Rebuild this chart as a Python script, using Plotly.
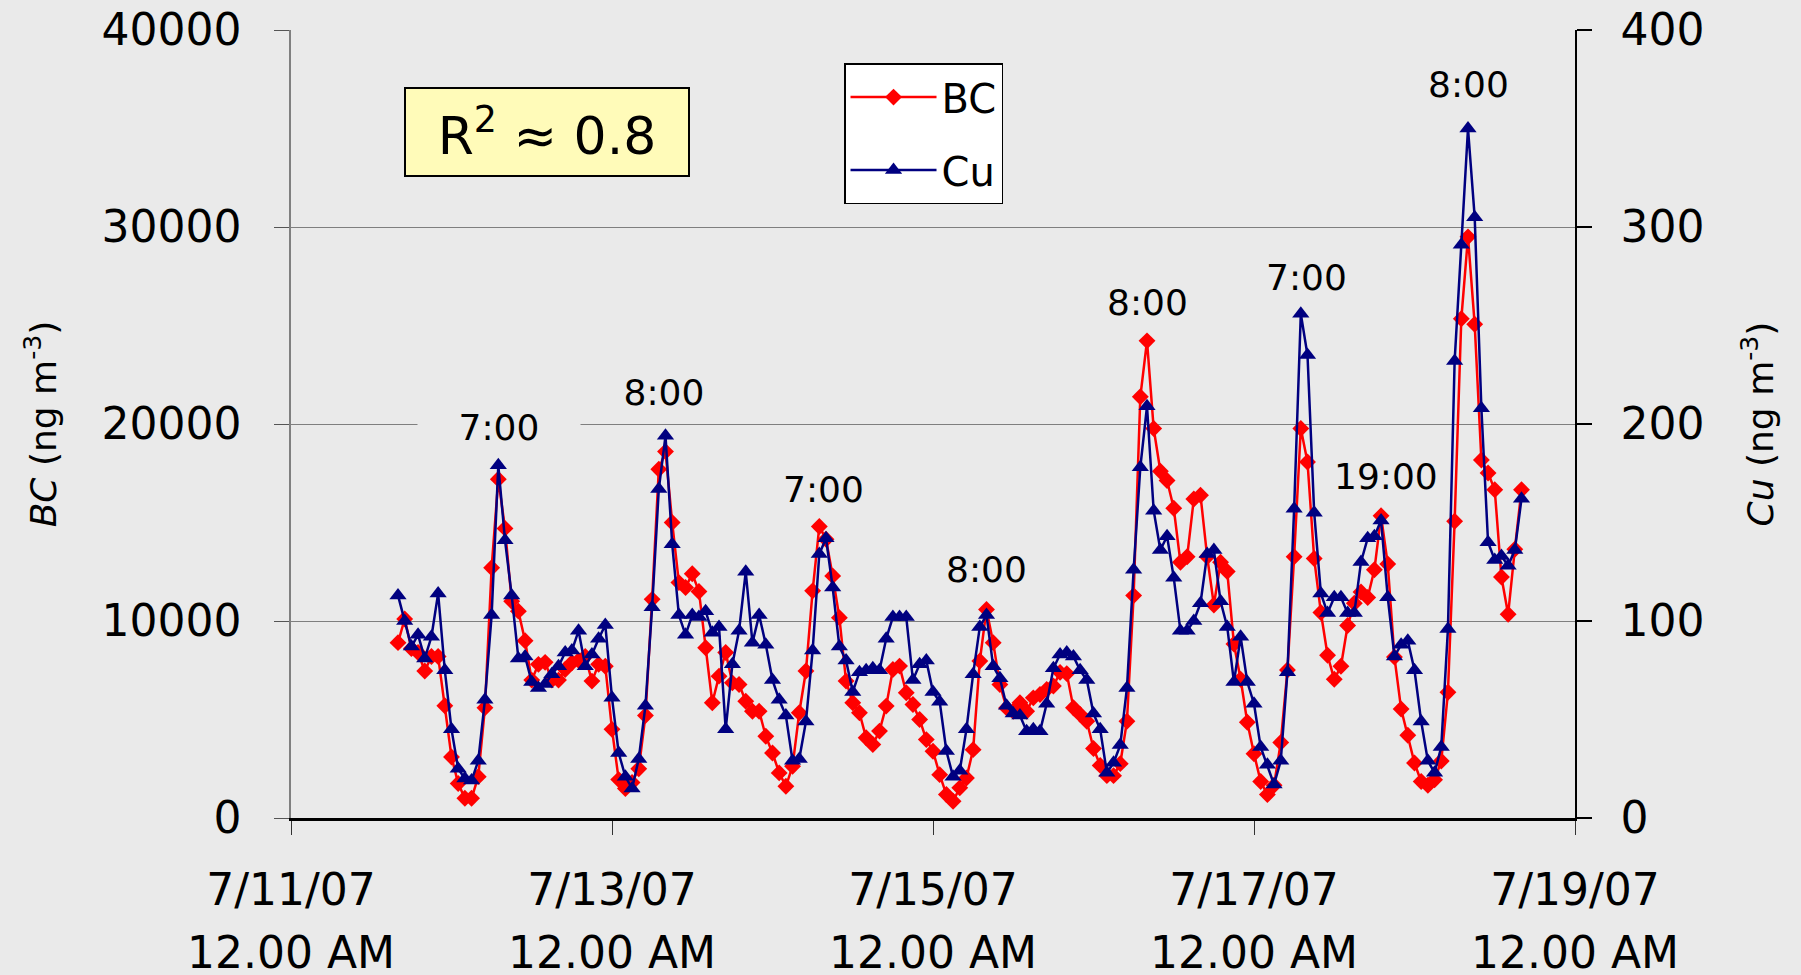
import pandas as pd
import plotly.graph_objects as go

# ---------------- data (hourly, starting 7/11/07 16:00) ----------------
start_time = "2007-07-11 16:00"

bc = [
    8900, 10100, 8600, 8400, 7460, 8200, 8200, 5700,
    3100, 1750, 1000, 1000, 2100, 5600, 12700, 17200,
    14700, 11000, 10500, 9000, 7000, 7800, 7900, 7000,
    7000, 7540, 7880, 8000, 8200, 6950, 7800, 7700,
    4500, 1950, 1500, 1800, 2500, 5200, 11100, 17700,
    18600, 15000, 11950, 11700, 12400, 11500, 8640, 5850,
    7200, 8400, 6860, 6780, 5930, 5420, 5420, 4150,
    3300, 2290, 1610, 2630, 5340, 7460, 11530, 14800,
    14150, 12290, 10170, 6950, 5850, 5340, 4070, 3730,
    4410, 5680, 7540, 7710, 6360, 5760, 5000, 3980,
    3390, 2200, 1190, 850, 1530, 2030, 3470, 7970,
    10590, 8900, 6780, 5590, 5420, 5850, 5420, 6100,
    6270, 6520, 6700, 7390, 7330, 5600, 5260, 4910,
    3530, 2670, 2150, 2150, 2760, 4910, 11290, 21380,
    24220, 19770, 17600, 17130, 15720, 12980, 13260, 16190,
    16380, 13260, 10810, 12980, 12510, 8830, 7040, 4860,
    3260, 1850, 1190, 1660, 3830, 7510, 13260, 19770,
    18070, 13170, 10430, 8260, 7040, 7700, 9770, 10900,
    11470, 11190, 12600, 15340, 12890, 8170, 5530, 4200,
    2790, 1850, 1660, 1940, 2890, 6380, 15060, 25340,
    29500, 25060, 18170, 17510, 16660, 12230, 10340, 13640,
    16660,
]

cu = [
    113, 100, 87, 93, 81, 92, 114, 75,
    45, 25, 20, 19, 29, 60, 103, 179,
    141, 113, 81, 82, 69, 66, 68, 73,
    77, 84, 85, 95, 77, 83, 91, 98,
    61, 33, 21, 15, 30, 57, 107, 167,
    194, 139, 103, 93, 103, 102, 105, 94,
    97, 45, 78, 95, 125, 89, 103, 88,
    70, 60, 52, 29, 30, 49, 85, 134,
    142, 117, 87, 80, 64, 74, 75, 76,
    75, 91, 102, 102, 102, 70, 78, 80,
    64, 59, 34, 21, 24, 45, 73, 97,
    103, 77, 71, 57, 53, 52, 44, 45,
    44, 58, 76, 83, 84, 82, 75, 70,
    53, 45, 23, 28, 37, 66, 126, 178,
    209, 156, 136, 143, 122, 95, 95, 100,
    109, 134, 136, 110, 97, 69, 92, 69,
    58, 36, 27, 17, 29, 74, 157, 256,
    235, 155, 114, 104, 112, 112, 104, 104,
    130, 142, 143, 151, 112, 82, 88, 90,
    75, 49, 29, 23, 36, 96, 232, 291,
    350, 305, 208, 140, 131, 133, 128, 136,
    162,
]

x_ticks = ["2007-07-11", "2007-07-13", "2007-07-15", "2007-07-17", "2007-07-19"]
x_tick_dates = ["7/11/07", "7/13/07", "7/15/07", "7/17/07", "7/19/07"]
x_tick_times = ["12.00 AM", "12.00 AM", "12.00 AM", "12.00 AM", "12.00 AM"]
bc_ticks = [0, 10000, 20000, 30000, 40000]
cu_ticks = [0, 100, 200, 300, 400]

peak_labels = ["7:00", "8:00", "7:00", "8:00", "8:00", "7:00", "19:00", "8:00"]
peak_label_times = ["2007-07-12 07:06", "2007-07-13 07:48", "2007-07-14 07:42",
                    "2007-07-15 08:00", "2007-07-16 08:00", "2007-07-17 07:54",
                    "2007-07-17 19:42", "2007-07-18 08:06"]
peak_label_bc = [19830, 21610, 16700, 12630, 26170, 27440, 17320, 37230]

times = pd.date_range(start_time, periods=len(bc), freq="h")

# ---------------- figure ----------------
FONT = "DejaVu Sans"
BG = "#EAEAEA"

fig = go.Figure()
fig.add_trace(go.Scatter(
    x=times, y=bc, name="BC", mode="lines+markers", legendgroup="bc",
    line=dict(color="#FF0000", width=2.5),
    marker=dict(symbol="diamond", size=13, color="#FF0000"),
    yaxis="y",
))
fig.add_trace(go.Scatter(
    x=times, y=cu, name="Cu", mode="lines+markers", legendgroup="cu",
    line=dict(color="#000080", width=2.5),
    marker=dict(symbol="triangle-up", size=15, color="#000080"),
    yaxis="y2",
))

annotations = []
for i, (txt, t, v) in enumerate(zip(peak_labels, peak_label_times, peak_label_bc)):
    a = dict(x=t, y=v, xref="x", yref="y", text=txt, showarrow=False,
             font=dict(family=FONT, size=36, color="black"),
             xanchor="center", yanchor="middle")
    if i == 0:
        a.update(bgcolor=BG, width=160, height=40)
    if i == 1:
        a.update(bgcolor=BG, width=150, height=40)
    annotations.append(a)

# second line of the x tick labels
for t, txt in zip(x_ticks, x_tick_times):
    annotations.append(dict(
        x=t, y=-0.1713, xref="x", yref="paper", text=txt, showarrow=False,
        font=dict(family=FONT, size=44, color="black"),
        xanchor="center", yanchor="middle",
    ))

annotations.append(dict(
    x=0.199, y=0.871, xref="paper", yref="paper",
    text="R<sup>2</sup> ≈ 0.8", showarrow=False,
    font=dict(family=FONT, size=52, color="black"),
    bgcolor="#FFFBB9", bordercolor="black", borderwidth=2,
    width=282, height=86, borderpad=0,
    xanchor="center", yanchor="middle",
))

fig.update_layout(
    width=1801, height=975,
    margin=dict(l=291, r=226, t=30, b=157, autoexpand=False),
    paper_bgcolor=BG, plot_bgcolor=BG,
    font=dict(family=FONT, size=44, color="black"),
    showlegend=True,
    legend=dict(
        x=0.4307, y=0.958, xanchor="left", yanchor="top",
        bgcolor="white", bordercolor="black", borderwidth=1.5,
        font=dict(family=FONT, size=40, color="black"),
        itemwidth=86, tracegroupgap=18,
    ),
    xaxis=dict(
        type="date",
        range=[x_ticks[0], x_ticks[-1]],
        tickvals=x_ticks,
        ticktext=x_tick_dates,
        ticks="outside", ticklen=14, tickwidth=1, tickcolor="#333333",
        ticklabelstandoff=17,
        showgrid=False, zeroline=False,
        showline=True, linecolor="black", linewidth=2.5,
        tickfont=dict(family=FONT, size=44),
    ),
    yaxis=dict(
        range=[0, 40000], tickvals=bc_ticks,
        ticktext=[str(v) for v in bc_ticks],
        ticks="outside", ticklen=15, tickwidth=1, tickcolor="#555555",
        ticklabelstandoff=24,
        showgrid=True, gridcolor="#7F7F7F", gridwidth=1,
        zeroline=False,
        showline=True, linecolor="#808080", linewidth=1.5,
        tickfont=dict(family=FONT, size=44),
        title=dict(text="<i>BC</i> (ng m<sup>-3</sup>)",
                   font=dict(family=FONT, size=36), standoff=34),
    ),
    yaxis2=dict(
        range=[0, 400], tickvals=cu_ticks,
        ticktext=[str(v) for v in cu_ticks],
        overlaying="y", side="right",
        ticks="outside", ticklen=15, tickwidth=1.5, tickcolor="black",
        ticklabelstandoff=20,
        showgrid=False, zeroline=False,
        showline=True, linecolor="black", linewidth=1.5,
        tickfont=dict(family=FONT, size=44),
        title=dict(text="<i>Cu</i> (ng m<sup>-3</sup>)",
                   font=dict(family=FONT, size=36), standoff=44),
    ),
    annotations=annotations,
)

fig.write_html(
    "out.html",
    config={"displayModeBar": False},
    post_script="document.body.style.margin='0';document.body.style.overflow='hidden';",
)
